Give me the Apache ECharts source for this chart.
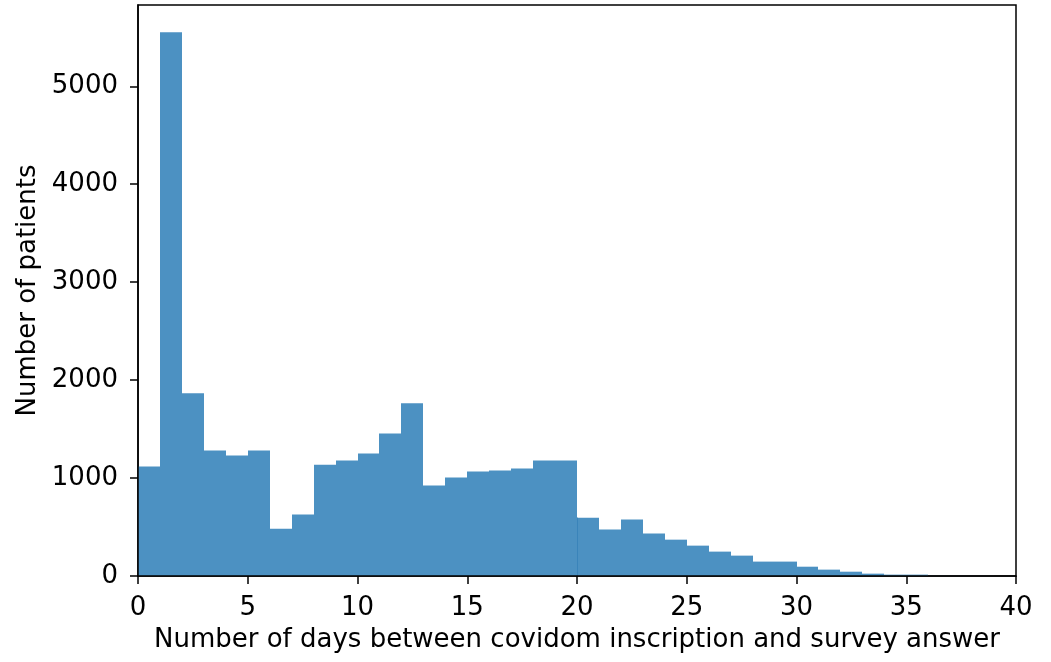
<!DOCTYPE html>
<html>
<head>
<meta charset="utf-8">
<script src="https://cdn.jsdelivr.net/npm/echarts@6/dist/echarts.min.js"></script>
<style>
  html, body { margin: 0; padding: 0; background: #fff; }
  #chart { width: 1051px; height: 662px; }
</style>
</head>
<body>
<div id="chart"></div>
<script>
// Histogram bins: one-day wide, left edge of each bin
const binStarts = [0,1,2,3,4,5,6,7,8,9,10,11,12,13,14,15,16,17,18,19,
                   20,21,22,23,24,25,26,27,28,29,30,31,32,33,34,35,36,37,38,39];
const binWidth = 1;
// Patient counts per bin
const patientCounts = [1118,5553,1867,1282,1231,1282,482,627,1137,1180,
                       1251,1455,1765,924,1005,1067,1077,1097,1179,1179,
                       596,474,576,433,371,310,249,208,147,147,
                       95,65,44,24,14,14,2,1,1,0];
// Day where two bar patches meet, leaving a visible seam
const seamDays = [20];
const xTicks = [0,5,10,15,20,25,30,35,40];
const yTicks = [0,1000,2000,3000,4000,5000];
const yMax = 5830;

const barColor = '#4c91c2';
const seamColor = '#3a84ba';
const font = 'DejaVu Sans';
const fontSize = 26;

const chart = echarts.init(document.getElementById('chart'));

const rects = binStarts.map((x0, i) => [x0, x0 + binWidth, patientCounts[i]]);
const seams = seamDays.map(d => {
  const i = binStarts.indexOf(d);
  return [d, Math.min(patientCounts[i], patientCounts[i - 1])];
});

chart.setOption({
  animation: false,
  backgroundColor: '#fff',
  grid: {
    left: 138, right: 35, top: 5, bottom: 86,
    show: true, borderColor: '#000', borderWidth: 1.5,
    backgroundColor: 'transparent'
  },
  xAxis: {
    type: 'value',
    z: 5,
    min: 0, max: 40, interval: 5,
    name: 'Number of days between covidom inscription and survey answer',
    nameLocation: 'middle',
    nameGap: 51,
    nameTextStyle: { fontFamily: font, fontSize: fontSize, color: '#000' },
    axisLine: { show: true, lineStyle: { color: '#000', width: 1.5 } },
    axisTick: { show: true, length: 8, lineStyle: { color: '#000', width: 1.5 }, customValues: xTicks },
    axisLabel: { fontFamily: font, fontSize: fontSize, color: '#000', margin: 19, customValues: xTicks },
    splitLine: { show: false }
  },
  yAxis: {
    type: 'value',
    z: 5,
    min: 0, max: yMax,
    name: 'Number of patients',
    nameLocation: 'middle',
    nameGap: 86,
    nameRotate: 90,
    nameTextStyle: { fontFamily: font, fontSize: fontSize, color: '#000' },
    axisLine: { show: true, lineStyle: { color: '#000', width: 1.5 } },
    axisTick: { show: true, length: 8, lineStyle: { color: '#000', width: 1.5 }, customValues: yTicks },
    axisLabel: {
      fontFamily: font, fontSize: fontSize, color: '#000', margin: 20,
      customValues: yTicks, formatter: v => String(v)
    },
    splitLine: { show: false }
  },
  series: [{
    type: 'custom',
    data: rects,
    encode: { x: [0, 1], y: 2 },
    z: 1,
    renderItem: function (params, api) {
      // snap side edges to whole pixels so neighbouring bars meet without seams
      const p0 = api.coord([api.value(0), 0]);
      const p1 = api.coord([api.value(1), api.value(2)]);
      const x0 = Math.round(p0[0]), x1 = Math.round(p1[0]);
      return {
        type: 'rect',
        shape: { x: x0, y: p1[1], width: x1 - x0, height: p0[1] - p1[1] },
        style: { fill: barColor }
      };
    }
  }, {
    type: 'custom',
    data: seams,
    encode: { x: 0, y: 1 },
    z: 2,
    renderItem: function (params, api) {
      const b = api.coord([api.value(0), 0]);
      const t = api.coord([api.value(0), api.value(1)]);
      const x = Math.round(b[0]) + 0.5;
      return {
        type: 'line',
        shape: { x1: x, y1: b[1], x2: x, y2: t[1] },
        style: { stroke: seamColor, lineWidth: 1 }
      };
    }
  }]
});
</script>
</body>
</html>
